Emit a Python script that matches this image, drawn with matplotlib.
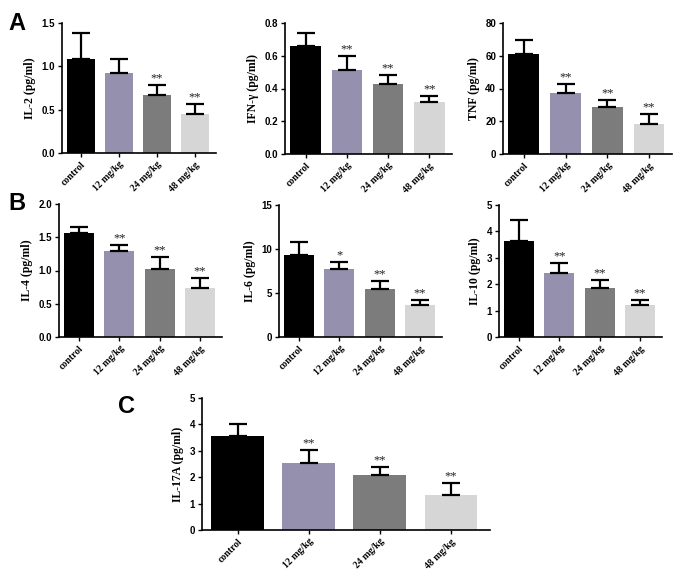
import matplotlib
matplotlib.use("Agg")
import matplotlib.pyplot as plt
import numpy as np

groups = ["control", "12 mg/kg", "24 mg/kg", "48 mg/kg"]
colors = ["#000000", "#9490ae", "#7c7c7c", "#d6d6d6"]

il2_mean = [1.09, 0.92, 0.67, 0.45]
il2_err = [0.30, 0.16, 0.12, 0.11]
il2_sig = ["", "", "**", "**"]

ifng_mean = [0.66, 0.51, 0.425, 0.315]
ifng_err = [0.08, 0.09, 0.055, 0.04]
ifng_sig = ["", "**", "**", "**"]

tnf_mean = [61.0, 37.0, 28.5, 18.5]
tnf_err = [8.5, 5.5, 4.5, 6.0]
tnf_sig = ["", "**", "**", "**"]

il4_mean = [1.57, 1.29, 1.03, 0.74]
il4_err = [0.09, 0.09, 0.18, 0.14]
il4_sig = ["", "**", "**", "**"]

il6_mean = [9.3, 7.7, 5.45, 3.65]
il6_err = [1.5, 0.85, 0.95, 0.55]
il6_sig = ["", "*", "**", "**"]

il10_mean = [3.65, 2.42, 1.85, 1.22]
il10_err = [0.80, 0.40, 0.32, 0.20]
il10_sig = ["", "**", "**", "**"]

il17_mean = [3.57, 2.55, 2.10, 1.33]
il17_err = [0.43, 0.48, 0.30, 0.44]
il17_sig = ["", "**", "**", "**"]

W, H = 675, 569
fig = plt.figure(figsize=(W / 100, H / 100), dpi=100)


def box(l, r, t, b):
    return [l / W, 1 - b / H, (r - l) / W, (b - t) / H]


def panel(rect, mean, err, sig, ylabel, ymax, yticks, yfmt):
    ax = fig.add_axes(rect)
    x = np.arange(len(groups))
    ax.bar(x, mean, width=0.74, color=colors, zorder=2)
    ax.errorbar(x, mean, yerr=[np.zeros(len(err)), err], fmt="none",
                ecolor="black", elinewidth=1.6, capsize=6.5, capthick=1.6, zorder=3)
    for xi, m, e, s in zip(x, mean, err, sig):
        if s:
            ax.text(xi, m + e + ymax * 0.005, s, ha="center", va="bottom",
                    fontsize=9, family="Liberation Serif", color="#222222")
    ax.set_xlim(-0.5, 3.55)
    ax.set_ylim(0, ymax)
    ax.set_yticks(yticks)
    ax.set_yticklabels([yfmt.format(v) for v in yticks],
                       fontsize=7, fontweight="bold", family="Liberation Sans")
    ax.set_xticks(x)
    ax.set_xticklabels(groups, rotation=45, ha="right", rotation_mode="anchor",
                       fontsize=7, fontweight="bold", family="Liberation Serif")
    ax.set_ylabel(ylabel, fontsize=8.5, fontweight="bold", family="Liberation Serif",
                  labelpad=4)
    for s in ["top", "right"]:
        ax.spines[s].set_visible(False)
    for s in ["left", "bottom"]:
        ax.spines[s].set_linewidth(1.2)
    ax.tick_params(axis="both", width=1.0, length=3, pad=2)
    return ax


panel(box(62, 216, 23, 153), il2_mean, il2_err, il2_sig, "IL-2 (pg/ml)", 1.5,
      [0.0, 0.5, 1.0, 1.5], "{:.1f}")
panel(box(285, 452, 23, 154), ifng_mean, ifng_err, ifng_sig, "IFN-γ (pg/ml)", 0.8,
      [0.0, 0.2, 0.4, 0.6, 0.8], "{:.1f}")
panel(box(503, 672, 23, 154), tnf_mean, tnf_err, tnf_sig, "TNF (pg/ml)", 80,
      [0, 20, 40, 60, 80], "{:d}")
panel(box(59, 222, 204, 337), il4_mean, il4_err, il4_sig, "IL-4 (pg/ml)", 2.0,
      [0.0, 0.5, 1.0, 1.5, 2.0], "{:.1f}")
panel(box(279, 442, 205, 337), il6_mean, il6_err, il6_sig, "IL-6 (pg/ml)", 15,
      [0, 5, 10, 15], "{:d}")
panel(box(499, 662, 205, 337), il10_mean, il10_err, il10_sig, "IL-10 (pg/ml)", 5,
      [0, 1, 2, 3, 4, 5], "{:d}")
panel(box(202, 490, 398, 530), il17_mean, il17_err, il17_sig, "IL-17A (pg/ml)", 5,
      [0, 1, 2, 3, 4, 5], "{:d}")

for lab, px, py in [("A", 8, 30), ("B", 8, 210), ("C", 118, 413)]:
    fig.text(px / W, 1 - py / H, lab, fontsize=17, fontweight="bold",
             family="Liberation Sans", ha="left", va="baseline")

fig.savefig("out.png", dpi=100)
